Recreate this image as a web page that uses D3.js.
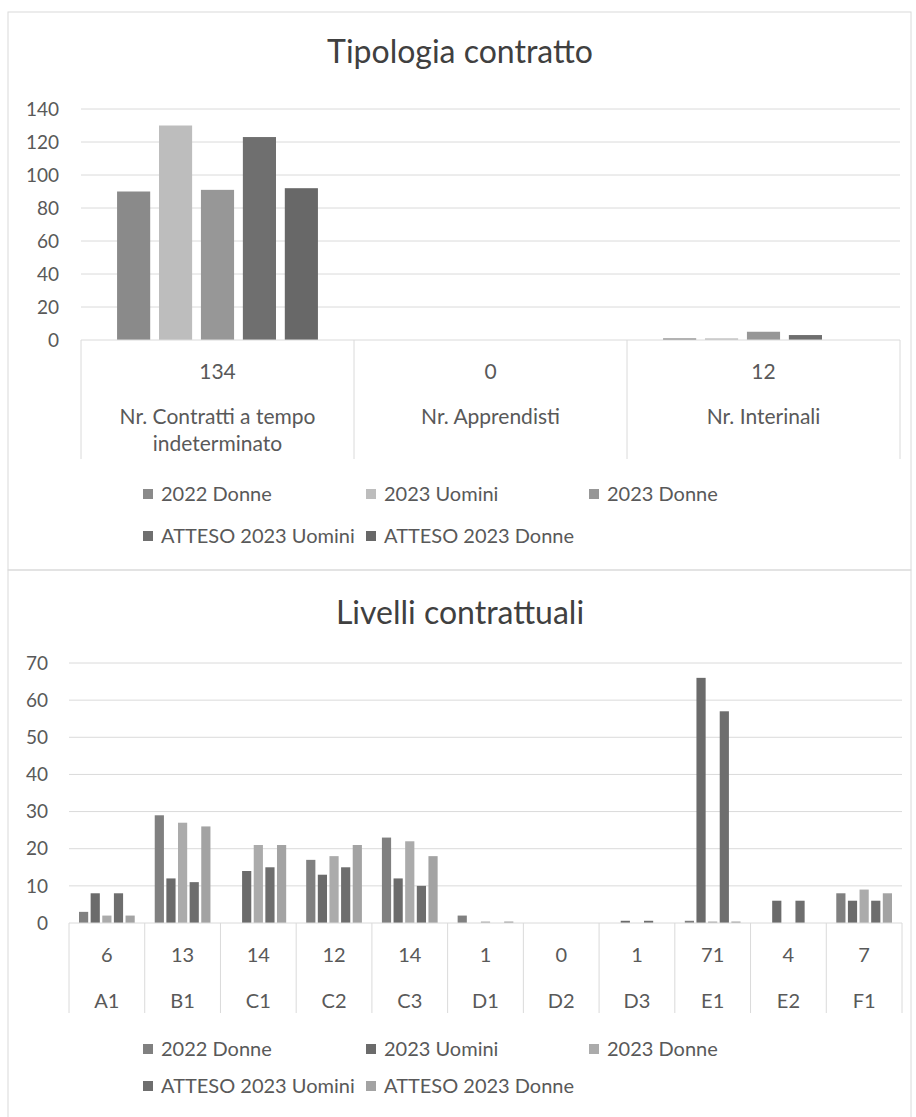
<!DOCTYPE html>
<html>
<head>
<meta charset="utf-8">
<script src="https://cdn.jsdelivr.net/npm/d3@7"></script>
<style>
  body { margin: 0; background: #fff; }
  svg { display: block; font-family: Lato, "Open Sans", sans-serif; }
</style>
</head>
<body>
<svg width="916" height="1117"></svg>
<script>
// series shared by both charts
const seriesNames = ["2022 Donne", "2023 Uomini", "2023 Donne", "ATTESO 2023 Uomini", "ATTESO 2023 Donne"];

// --- Tipologia contratto
const tipCategories = ["Nr. Contratti a tempo\nindeterminato", "Nr. Apprendisti", "Nr. Interinali"];
const tipTotals = [134, 0, 12];
const tip2022Donne = [90, 0, 1];
const tip2023Uomini = [130, 0, 1];
const tip2023Donne = [91, 0, 5];
const tipAttesoUomini = [123, 0, 3];
const tipAttesoDonne = [92, 0, 0];
const tipTicks = [0, 20, 40, 60, 80, 100, 120, 140];
const tipColors = ["#8a8a8a", "#bdbdbd", "#979797", "#6f6f6f", "#686868"];

// --- Livelli contrattuali
const livCategories = ["A1", "B1", "C1", "C2", "C3", "D1", "D2", "D3", "E1", "E2", "F1"];
const livTotals = [6, 13, 14, 12, 14, 1, 0, 1, 71, 4, 7];
const liv2022Donne = [3, 29, 0, 17, 23, 2, 0, 0, 0.6, 0, 8];
const liv2023Uomini = [8, 12, 14, 13, 12, 0, 0, 0.6, 66, 6, 6];
const liv2023Donne = [2, 27, 21, 18, 22, 0.4, 0, 0, 0.4, 0, 9];
const livAttesoUomini = [8, 11, 15, 15, 10, 0, 0, 0.6, 57, 6, 6];
const livAttesoDonne = [2, 26, 21, 21, 18, 0.4, 0, 0, 0.4, 0, 8];
const livTicks = [0, 10, 20, 30, 40, 50, 60, 70];
const livColors = ["#808080", "#6b6b6b", "#ababab", "#6e6e6e", "#a3a3a3"];

const svg = d3.select("svg");
const gridColor = "#dadada";
const textColor = "#595959";

// panel frames
svg.append("rect").attr("x", 8).attr("y", 12).attr("width", 903).attr("height", 558)
  .attr("fill", "none").attr("stroke", gridColor);
svg.append("rect").attr("x", 8).attr("y", 570).attr("width", 903).attr("height", 600)
  .attr("fill", "none").attr("stroke", gridColor);

function drawChart(o) {
  const g = svg.append("g");
  const data = o.categories.map((c, i) => {
    const row = { cat: c, total: o.totals[i] };
    seriesNames.forEach((s, j) => row[s] = o.values[j][i]);
    return row;
  });

  const x0 = d3.scaleBand().domain(o.categories).range([o.left, o.right]).padding(0);
  const x1 = d3.scaleBand().domain(seriesNames).range([0, x0.bandwidth()])
    .paddingInner(0.21).paddingOuter(0.86);
  const y = d3.scaleLinear().domain([0, d3.max(o.ticks)]).range([o.bottom, o.top]);
  const color = d3.scaleOrdinal().domain(seriesNames).range(o.colors);

  // title
  g.append("text").attr("x", 460).attr("y", o.titleY).attr("text-anchor", "middle")
    .attr("font-size", 32).attr("fill", "#404040").text(o.title);

  // gridlines + tick labels
  g.append("g").selectAll("line").data(o.ticks.slice(1)).join("line")
    .attr("x1", o.left).attr("x2", o.right)
    .attr("y1", d => y(d)).attr("y2", d => y(d))
    .attr("stroke", gridColor);
  g.append("g").selectAll("text").data(o.ticks).join("text")
    .attr("x", o.tickX).attr("y", d => y(d)).attr("dy", "0.35em")
    .attr("text-anchor", "end").attr("font-size", 19).attr("fill", textColor)
    .text(d => d);

  // bars
  g.append("g").selectAll("g").data(data).join("g")
    .attr("transform", d => "translate(" + x0(d.cat) + ",0)")
    .selectAll("rect")
    .data(d => seriesNames.map(s => ({ key: s, value: d[s] })).filter(v => v.value > 0))
    .join("rect")
    .attr("x", d => x1(d.key))
    .attr("width", x1.bandwidth())
    .attr("y", d => y(d.value))
    .attr("height", d => y(0) - y(d.value))
    .attr("fill", d => color(d.key));

  // category table under the axis
  g.append("line").attr("x1", o.left).attr("x2", o.right)
    .attr("y1", o.bottom).attr("y2", o.bottom).attr("stroke", gridColor);
  const edges = o.categories.map(c => x0(c)).concat([o.right]);
  g.append("g").selectAll("line").data(edges).join("line")
    .attr("x1", d => d).attr("x2", d => d)
    .attr("y1", o.bottom).attr("y2", o.tableBottom)
    .attr("stroke", gridColor);

  const cell = g.append("g").selectAll("g").data(data).join("g")
    .attr("transform", d => "translate(" + (x0(d.cat) + x0.bandwidth() / 2) + ",0)")
    .attr("text-anchor", "middle").attr("font-size", o.tableFont).attr("fill", textColor);
  cell.append("text").attr("y", o.totalY).attr("dy", "0.35em").text(d => d.total);
  cell.each(function (d) {
    d3.select(this).selectAll("text.lab").data(d.cat.split("\n")).join("text")
      .attr("class", "lab")
      .attr("y", (t, i) => o.labelY + i * 27).attr("dy", "0.35em")
      .text(t => t);
  });

  // legend, three per row
  const legend = g.append("g").selectAll("g").data(seriesNames).join("g")
    .attr("transform", (d, i) => "translate(" + (143 + (i % 3) * 223) + "," + (o.legendY + Math.floor(i / 3) * o.legendGap) + ")");
  legend.append("rect").attr("y", -5).attr("width", 10).attr("height", 10).attr("fill", d => color(d));
  legend.append("text").attr("x", 18).attr("dy", "0.35em")
    .attr("font-size", 20).attr("fill", textColor).text(d => d);
}

drawChart({
  title: "Tipologia contratto", titleY: 63,
  categories: tipCategories, totals: tipTotals,
  values: [tip2022Donne, tip2023Uomini, tip2023Donne, tipAttesoUomini, tipAttesoDonne],
  ticks: tipTicks, colors: tipColors,
  left: 81, right: 900, top: 109, bottom: 340, tickX: 59,
  totalY: 372, labelY: 417, tableBottom: 459, tableFont: 21,
  legendY: 494, legendGap: 42
});

drawChart({
  title: "Livelli contrattuali", titleY: 624,
  categories: livCategories, totals: livTotals,
  values: [liv2022Donne, liv2023Uomini, liv2023Donne, livAttesoUomini, livAttesoDonne],
  ticks: livTicks, colors: livColors,
  left: 69, right: 902, top: 663, bottom: 923, tickX: 48,
  totalY: 955, labelY: 1001, tableBottom: 1013, tableFont: 20,
  legendY: 1049, legendGap: 37
});
</script>
</body>
</html>
